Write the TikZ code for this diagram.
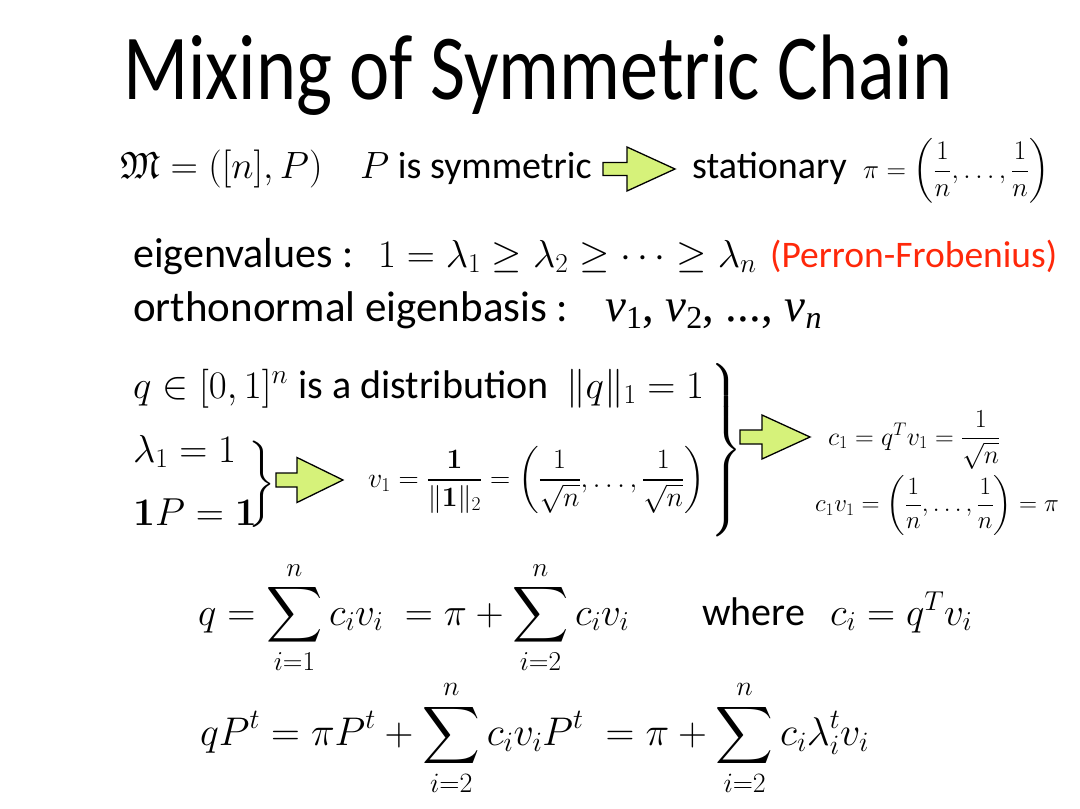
\RequirePackage{fix-cm}
\documentclass[tikz,border=0pt]{standalone}
\usepackage{amsmath,amssymb}
\usepackage[no-math]{fontspec}
\setsansfont{Carlito}
\newfontfamily\titlef{Carlito}[FakeStretch=0.82]
\newfontfamily\timesf{Liberation Serif}
\DeclareFontFamily{U}{euf}{}
\DeclareFontShape{U}{euf}{m}{n}{<-6>eufm5<6-8>eufm7<8->eufm10}{}
\newcommand{\setfs}[1]{\fontsize{#1}{#1}\selectfont}
\definecolor{agreen}{RGB}{214,242,122}
\definecolor{pfred}{RGB}{255,40,10}
\newcommand{\barrow}[6]{\draw[garrow] (#1,#4-#5) -- (#2,#4-#5) -- (#2,#4-#6) -- (#3,#4) -- (#2,#4+#6) -- (#2,#4+#5) -- (#1,#4+#5) -- cycle;}
\newcommand{\bigbrace}[1]{$\nulldelimiterspace=0pt\left.\vcenter{\hbox{\rule{0pt}{#1}}}\right\}$}
\begin{document}
\begin{tikzpicture}[x=1pt,y=-1pt,
  txt/.style={inner sep=0pt, anchor=base west},
  garrow/.style={fill=agreen, draw=black, line width=1.3pt, line join=miter}]
\useasboundingbox[fill=white] (0,0) rectangle (1080,809);
% title
\node[txt, font=\titlef\setfs{93}] (title) at (123,99) {Mixing of Symmetric Chain};
% line 2
\node[txt, font=\setfs{38}] (m) at (120,178) {$\mathfrak{M} = ([n], P)$};
\node[txt, font=\sffamily\setfs{38}] (sym) at (360,178) {$P$ is symmetric};
\barrow{603}{627}{675}{169}{6.5}{22}
\node[txt, font=\sffamily\setfs{38}] (stat) at (692,178) {stationary};
\node[txt, font=\setfs{27}] (pi) at (863,178) {$\displaystyle \pi = \left(\frac{1}{n}, \dots, \frac{1}{n}\right)$};
% line 3
\node[txt, font=\sffamily\setfs{42}] (eig) at (133,267) {eigenvalues :};
\node[txt, font=\setfs{39}] (eigm) at (378,267) {$1 = \lambda_1 \geq \lambda_2 \geq \cdots \geq \lambda_n$};
\node[txt, font=\sffamily\setfs{37.5}, text=pfred] (pf) at (770,267) {(Perron-Frobenius)};
% line 4
\node[txt, font=\sffamily\setfs{43}] (ortho) at (133,321) {orthonormal eigenbasis :};
\node[txt, font=\timesf\setfs{47}] (vs) at (605,321) {\textit{v}\raisebox{-7pt}{\setfs{32}1}, \textit{v}\raisebox{-7pt}{\setfs{32}2}, ..., \textit{v}\raisebox{-7pt}{\setfs{32}\textit{n}}};
% line 5
\node[txt, font=\setfs{39}] (qin) at (133,398) {$q \in [0,1]^n$};
\node[txt, font=\sffamily\setfs{40}] (dist) at (298,398) {is a distribution};
\node[txt, font=\setfs{39}] (norm) at (566,398) {$\|q\|_1 = 1$};
% left group
\node[txt, font=\setfs{39}] (lam) at (133,462) {$\lambda_1 = 1$};
\node[txt, font=\setfs{39}] (onep) at (133,525) {$\mathbf{1}P = \mathbf{1}$};
\node[inner sep=0pt, font=\setfs{36}] (br1) at (262,484) {\bigbrace{70pt}};
\barrow{276}{297}{343}{480}{7}{22.5}
\node[inner sep=0pt, anchor=west, font=\setfs{28}] (v1) at (368,480) {$v_1 = \dfrac{\mathbf{1}}{\|\mathbf{1}\|_2} = \left(\dfrac{1}{\sqrt{n}}, \dots, \dfrac{1}{\sqrt{n}}\right)$};
% right group
\node[inner sep=0pt, font=\setfs{36}] (br2) at (726,450) {\bigbrace{160pt}};
\barrow{740}{762}{810}{437}{7}{22}
\node[inner sep=0pt, anchor=west, font=\setfs{26}] (c1) at (828,440) {$c_1 = q^T v_1 = \dfrac{1}{\sqrt{n}}$};
\node[inner sep=0pt, anchor=west, font=\setfs{25}] (c1v1) at (815,505) {$c_1 v_1 = \left(\dfrac{1}{n}, \dots, \dfrac{1}{n}\right) = \pi$};
% sums
\node[txt, font=\setfs{39}] (sum1) at (198,625) {$\displaystyle q = \sum_{i=1}^n c_i v_i \;= \pi + \sum_{i=2}^n c_i v_i$};
\node[txt, font=\sffamily\setfs{40}] (where) at (702,625) {where};
\node[txt, font=\setfs{39}] (ci) at (830,625) {$c_i = q^T v_i$};
\node[txt, font=\setfs{40}] (sum2) at (200,745) {$\displaystyle qP^t = \pi P^t + \sum_{i=2}^n c_i v_i P^t \;= \pi + \sum_{i=2}^n c_i \lambda_i^t v_i$};
\end{tikzpicture}
\end{document}
